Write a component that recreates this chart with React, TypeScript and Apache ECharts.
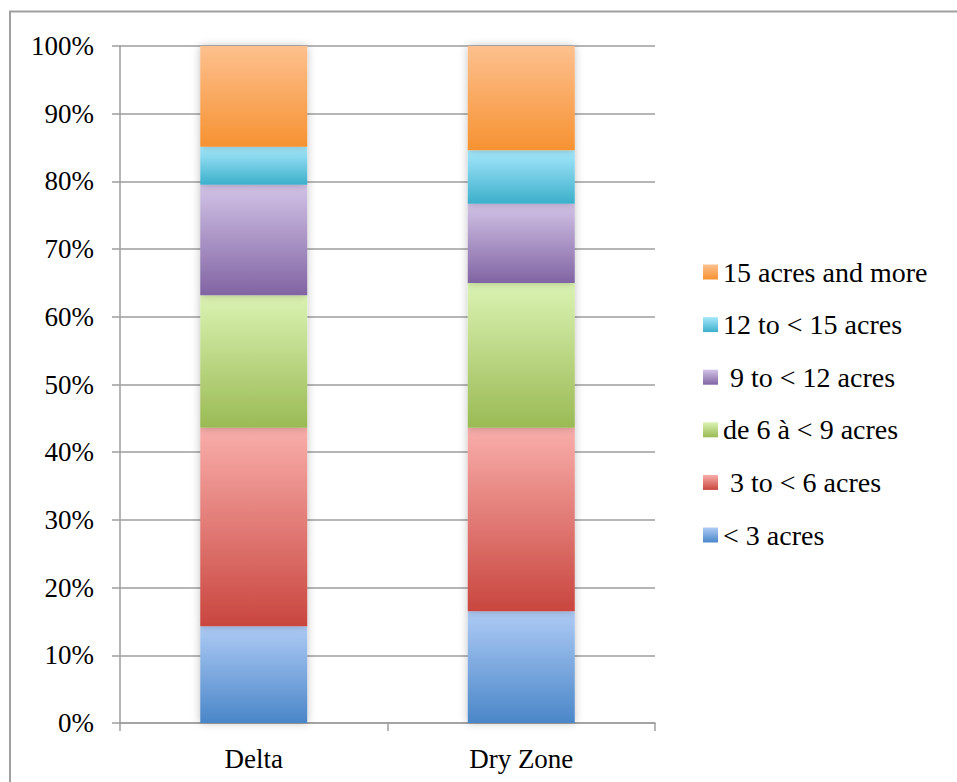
import React, { useEffect, useRef } from "react";
import * as echarts from "echarts";

const categories = ["Delta", "Dry Zone"];
const seriesNames = ["< 3 acres", " 3 to < 6 acres", "de 6 à < 9 acres", " 9 to < 12 acres", "12 to < 15 acres", "15 acres and more"];
const lt3 = [14.3, 16.5];
const s3to6 = [29.3, 27.1];
const s6to9 = [19.6, 21.4];
const s9to12 = [16.3, 11.7];
const s12to15 = [5.6, 7.9];
const s15plus = [14.9, 15.4];
const seriesValues = [lt3, s3to6, s6to9, s9to12, s12to15, s15plus];
const yTicks = [0, 10, 20, 30, 40, 50, 60, 70, 80, 90, 100];

const gradients: [string, string][] = [
  ["#aecbf5", "#4a86c8"],
  ["#f9aeab", "#c9463f"],
  ["#dbf3b3", "#9aba54"],
  ["#d2c3e6", "#8164a3"],
  ["#a6e8fc", "#3cafcb"],
  ["#fdc08e", "#f69232"],
];

const FONT = "Liberation Serif";

export default function App() {
  const ref = useRef<HTMLDivElement>(null);
  useEffect(() => {
    if (!ref.current) return;
    const chart = echarts.init(ref.current, null, { renderer: "svg" });
    const grey = "#9e9e9e";
    chart.setOption({
      animation: false,
      backgroundColor: "#ffffff",
      graphic: [
        {
          type: "rect",
          shape: { x: 10, y: 11.5, width: 1000, height: 1000 },
          style: { fill: "none", stroke: "#a0a0a0", lineWidth: 2 },
          silent: true,
        },
      ],
      grid: { left: 120, right: 302, top: 46, bottom: 59, containLabel: false },
      legend: {
        orient: "vertical",
        left: 698,
        top: 253,
        itemWidth: 15,
        itemHeight: 15,
        itemGap: 24.6,
        icon: "rect",
        data: [...seriesNames].reverse(),
        textStyle: { fontFamily: FONT, fontSize: 28, color: "#000", lineHeight: 28 },
      },
      xAxis: {
        type: "category",
        data: categories,
        axisLine: { lineStyle: { color: grey, width: 1.5 } },
        axisTick: { show: true, length: 8, lineStyle: { color: grey, width: 1.5 } },
        axisLabel: { fontFamily: FONT, fontSize: 27, color: "#000", margin: 22 },
      },
      yAxis: {
        type: "value",
        min: yTicks[0],
        max: yTicks[yTicks.length - 1],
        interval: 10,
        axisLine: { show: true, lineStyle: { color: grey, width: 1.5 } },
        axisTick: { show: true, length: 8, lineStyle: { color: grey, width: 1.5 } },
        splitLine: { show: true, lineStyle: { color: grey, width: 1.5 } },
        axisLabel: { fontFamily: FONT, fontSize: 27, color: "#000", margin: 26, formatter: "{value}%" },
      },
      series: seriesNames.map((name, i) => ({
        name,
        type: "bar",
        stack: "total",
        barWidth: "40%",
        data: seriesValues[i],
        itemStyle: {
          color: new echarts.graphic.LinearGradient(0, 0, 0, 1, [
            { offset: 0, color: gradients[i][0] },
            { offset: 1, color: gradients[i][1] },
          ]),
          shadowBlur: 8,
          shadowColor: "rgba(0,0,0,0.25)",
          shadowOffsetX: 0,
          shadowOffsetY: 0,
        },
      })),
    });
    return () => chart.dispose();
  }, []);
  return <div ref={ref} style={{ position: "fixed", left: 0, top: 0, width: 957, height: 782 }} />;
}
